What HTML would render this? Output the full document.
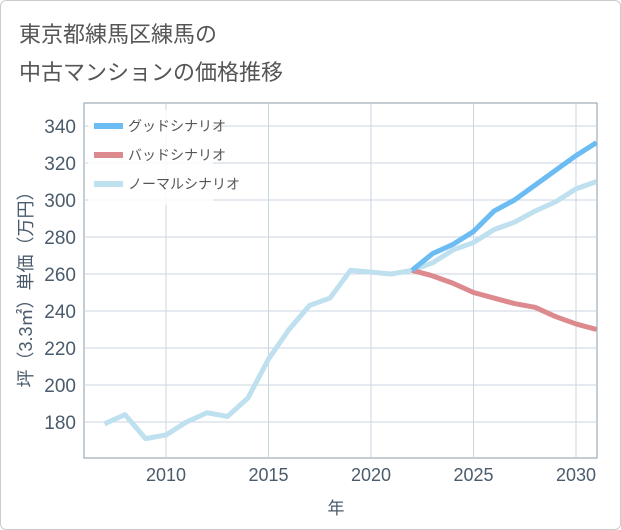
<!DOCTYPE html>
<html><head><meta charset="utf-8"><style>
body{margin:0;background:#fff;}
#wrap{position:relative;width:619px;height:528px;border:1px solid #ccc;border-radius:6px;font-family:"Liberation Sans","Noto Sans CJK JP",sans-serif;}
.t{position:absolute;left:18px;font-size:22px;color:#555;}
</style></head><body>
<div id="wrap">
<div class="t" style="top:16px">東京都練馬区練馬の</div>
<div class="t" style="top:54px">中古マンションの価格推移</div>
<svg id="c" width="621" height="530" style="position:absolute;left:-1px;top:-1px"></svg>
</div>
<script>
const years=[2007,2008,2009,2010,2011,2012,2013,2014,2015,2016,2017,2018,2019,2020,2021,2022,2023,2024,2025,2026,2027,2028,2029,2030,2031];
const normal=[179,184,171,173,180,185,183,193,214,230,243,247,262,261,260,262,266,273,277,284,288,294,299,306,310];
const goodYears=[2022,2023,2024,2025,2026,2027,2028,2029,2030,2031];
const good=[262,271,276,283,294,300,308,316,324,331];
const bad=[262,259,255,250,247,244,242,237,233,230];
const yTicks=[180,200,220,240,260,280,300,320,340];
const xTicks=[2010,2015,2020,2025,2030];
const L=84,R=597,T=103,B=458;
const X=v=>166+(v-2010)*20.5;
const Y=v=>422-(v-180)*1.85;
const s=document.getElementById('c');const NS='http://www.w3.org/2000/svg';
function mk(t,a,p){const e=document.createElementNS(NS,t);for(const k in a)e.setAttribute(k,a[k]);(p||s).appendChild(e);return e;}
let e;
e=mk('rect',{x:L,y:T,width:R-L,height:B-T,fill:'#fff',stroke:'#8a9aa8','stroke-width':1});


yTicks.forEach(v=>{
e=mk('line',{x1:L,x2:R,y1:Y(v),y2:Y(v),stroke:'#c9d6e0'});


e=mk('text',{x:L-8,y:Y(v)+7,'text-anchor':'end','font-size':19,fill:'#4a5b6c'});e.textContent=v;


});
xTicks.forEach(v=>{
e=mk('line',{x1:X(v),x2:X(v),y1:T,y2:B,stroke:'#c9d6e0'});


e=mk('text',{x:X(v),y:B+23,'text-anchor':'middle','font-size':18,fill:'#4a5b6c'});e.textContent=v;


});
e=mk('text',{x:336,y:514,'text-anchor':'middle','font-size':17,fill:'#4a5b6c'});e.textContent='年';


e=mk('text',{x:0,y:0,'text-anchor':'middle','font-size':18,fill:'#4a5b6c',transform:'translate(32,285) rotate(-90)'});e.textContent='坪（3.3㎡）単価（万円）';


const cl=mk('clipPath',{id:'cp'});mk('rect',{x:L,y:T,width:R-L,height:B-T},cl);
function line(xs,ys,col,name){const d=xs.map((x,i)=>(i?'L':'M')+X(x)+','+Y(ys[i])).join('');
const p=mk('path',{d:d,fill:'none',stroke:col,'stroke-width':5,'stroke-linejoin':'round','clip-path':'url(#cp)'});

}
line(years,normal,'#bfe0ee','normal-line');
line(goodYears,bad,'#dc8a8e','bad-line');
line(goodYears,good,'#6bbcf2','good-line');
e=mk('rect',{x:88,y:110,width:125,height:95,fill:'#fff','fill-opacity':0.85});


[['グッドシナリオ','#6bbcf2'],['バッドシナリオ','#dc8a8e'],['ノーマルシナリオ','#bfe0ee']].forEach((l,i)=>{
const y=126+i*29;
e=mk('line',{x1:94,x2:123,y1:y,y2:y,stroke:l[1],'stroke-width':6});


e=mk('text',{x:128,y:y+5,'font-size':14,fill:'#555'});e.textContent=l[0];


});
</script>
</body></html>
